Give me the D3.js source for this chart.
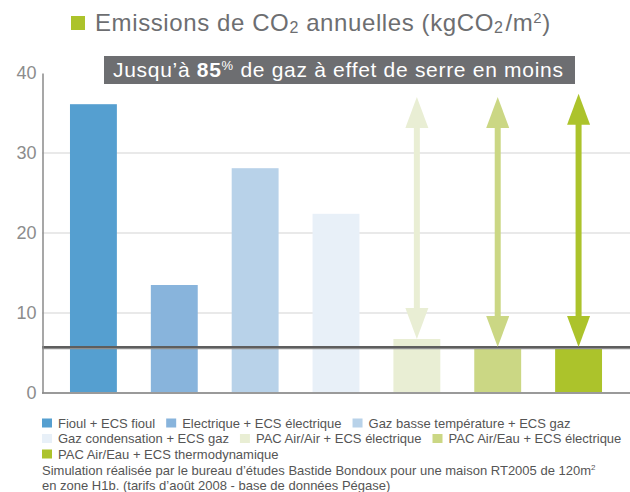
<!DOCTYPE html>
<html>
<head>
<meta charset="utf-8">
<script src="https://cdn.jsdelivr.net/npm/d3@7"></script>
<style>
  body { margin: 0; background: #fff; }
  svg { font-family: "Liberation Sans", Arial, sans-serif; }
</style>
</head>
<body>
<div id="chart"></div>
<script>
const categories = [
    "Fioul + ECS fioul",
    "Electrique + ECS électrique",
    "Gaz basse température + ECS gaz",
    "Gaz condensation + ECS gaz",
    "PAC Air/Air + ECS électrique",
    "PAC Air/Eau + ECS électrique",
    "PAC Air/Eau + ECS thermodynamique"
];
const values = [36.1, 13.5, 28.1, 22.4, 6.75, 5.5, 5.5];
const colors = ["#559fd0", "#88b4dc", "#b8d2e9", "#e8f0f8", "#e9eed4", "#cbd784", "#acc32b"];
const yTicks = [0, 10, 20, 30, 40];
const gridTicks = [10, 20, 30];
const refValue = 5.75;          // niveau des PAC
const arrowIndex = [4, 5, 6];
const arrowTop = [37, 37, 37.4];
const legendRows = [[0, 1, 2], [3, 4, 5], [6]];
const notes = [
    "Simulation réalisée par le bureau d’études Bastide Bondoux pour une maison RT2005 de 120m",
    "en zone H1b. (tarifs d’août 2008 - base de données Pégase)"
];

const WIDTH = 630, HEIGHT = 492;
const PLOT = { LEFT: 42, RIGHT: 630, TOP: 73, BOTTOM: 393 };

const svg = d3.select("#chart").append("svg")
    .attr("width", WIDTH)
    .attr("height", HEIGHT);

// Scales
const xScale = d3.scaleBand()
    .domain(d3.range(categories.length))
    .range([PLOT.LEFT, PLOT.RIGHT])
    .paddingInner(0.42)
    .paddingOuter(0.346);
const yScale = d3.scaleLinear()
    .domain([0, 40])
    .range([PLOT.BOTTOM, PLOT.TOP]);

// Title
svg.append("rect")
    .attr("x", 71).attr("y", 16)
    .attr("width", 14).attr("height", 14)
    .attr("fill", "#acc32b");

const title = svg.append("text")
    .attr("x", 95).attr("y", 30.5)
    .style("font-size", "24px")
    .style("letter-spacing", "0.6px")
    .style("fill", "#6d6e71");
title.append("tspan").text("Emissions de CO");
title.append("tspan").attr("dy", 2).style("font-size", "16px").text("2");
title.append("tspan").attr("dy", -2).text(" annuelles (kgCO");
title.append("tspan").attr("dy", 2).style("font-size", "16px").text("2");
title.append("tspan").attr("dy", -2).attr("dx", 2).text("/m");
title.append("tspan").attr("dy", -8).style("font-size", "15px").text("2");
title.append("tspan").attr("dy", 8).text(")");

// Banner
svg.append("rect")
    .attr("x", 104).attr("y", 56)
    .attr("width", 471).attr("height", 28)
    .attr("fill", "#6d6e71");

const banner = svg.append("text")
    .attr("x", 113).attr("y", 77)
    .style("font-size", "21px")
    .style("letter-spacing", "0.7px")
    .style("fill", "#fff");
banner.append("tspan").text("Jusqu’à ");
banner.append("tspan").style("font-weight", "bold").text("85");
banner.append("tspan").attr("dy", -7).style("font-size", "13px").text("%");
banner.append("tspan").attr("dy", 7).text(" de gaz à effet de serre en moins");

// Gridlines
svg.append("g")
    .selectAll("line")
    .data(gridTicks)
    .join("line")
    .attr("x1", PLOT.LEFT).attr("x2", PLOT.RIGHT)
    .attr("y1", d => yScale(d)).attr("y2", d => yScale(d))
    .attr("stroke", "#e2e2e2")
    .attr("stroke-width", 1.5);

// Bars
svg.append("g")
    .selectAll("rect")
    .data(values)
    .join("rect")
    .attr("x", (d, i) => xScale(i))
    .attr("y", d => yScale(d))
    .attr("width", xScale.bandwidth())
    .attr("height", d => yScale(0) - yScale(d))
    .attr("fill", (d, i) => colors[i]);

// Reference line
svg.append("line")
    .attr("x1", PLOT.LEFT).attr("x2", PLOT.RIGHT)
    .attr("y1", yScale(refValue)).attr("y2", yScale(refValue))
    .attr("stroke", "#5e5e5e")
    .attr("stroke-width", 2);
svg.append("line")
    .attr("x1", PLOT.LEFT).attr("x2", PLOT.RIGHT)
    .attr("y1", yScale(refValue) + 1.6).attr("y2", yScale(refValue) + 1.6)
    .attr("stroke", "#8e8e8e")
    .attr("stroke-width", 1.2);

// Double arrows
const HEAD_LEN = 31, HEAD_W = 11.5, SHAFT_W = 3;
arrowIndex.forEach((idx, k) => {
    const cx = xScale(idx) + xScale.bandwidth() / 2;
    const yTop = yScale(arrowTop[k]);
    const yBot = yScale(Math.max(values[idx], refValue));
    const g = svg.append("g").attr("fill", colors[idx]);
    g.append("rect")
        .attr("x", cx - SHAFT_W).attr("y", yTop + HEAD_LEN - 1)
        .attr("width", SHAFT_W * 2)
        .attr("height", yBot - yTop - 2 * HEAD_LEN + 2);
    g.append("path")
        .attr("d", `M${cx},${yTop}L${cx + HEAD_W},${yTop + HEAD_LEN}L${cx - HEAD_W},${yTop + HEAD_LEN}Z`);
    g.append("path")
        .attr("d", `M${cx},${yBot}L${cx + HEAD_W},${yBot - HEAD_LEN}L${cx - HEAD_W},${yBot - HEAD_LEN}Z`);
});

// Baseline
svg.append("line")
    .attr("x1", PLOT.LEFT).attr("x2", PLOT.RIGHT)
    .attr("y1", yScale(0)).attr("y2", yScale(0))
    .attr("stroke", "#9a9a9a")
    .attr("stroke-width", 2);

// Y axis
const yAxis = svg.append("g")
    .attr("transform", `translate(${PLOT.LEFT + 0.5}, 0)`)
    .call(d3.axisLeft(yScale).tickValues(yTicks).tickSize(0).tickPadding(6));
yAxis.select(".domain")
    .attr("stroke", "#8a8a8a")
    .attr("stroke-width", 1.5);
yAxis.selectAll("text")
    .attr("font-family", "Liberation Sans, Arial, sans-serif")
    .style("font-size", "18px")
    .style("fill", "#8c8c8c");

// Legend
const legend = svg.append("g")
    .style("font-size", "13px")
    .style("fill", "#555");
legendRows.forEach((row, r) => {
    let x = 42;
    const y = 423 + r * 15.5;
    row.forEach(i => {
        legend.append("rect")
            .attr("x", x).attr("y", y - 4.5)
            .attr("width", 10).attr("height", 9)
            .attr("fill", colors[i]);
        const t = legend.append("text")
            .attr("x", x + 16).attr("y", y + 4.5)
            .text(categories[i]);
        x += 16 + t.node().getComputedTextLength() + 11;
    });
});

// Notes
notes.forEach((line, i) => {
    const t = legend.append("text")
        .attr("x", 42).attr("y", 474.5 + i * 15.5)
        .text(line);
    if (i === 0) {
        t.append("tspan").attr("dy", -5).style("font-size", "8px").text("2");
    }
});
</script>
</body>
</html>
